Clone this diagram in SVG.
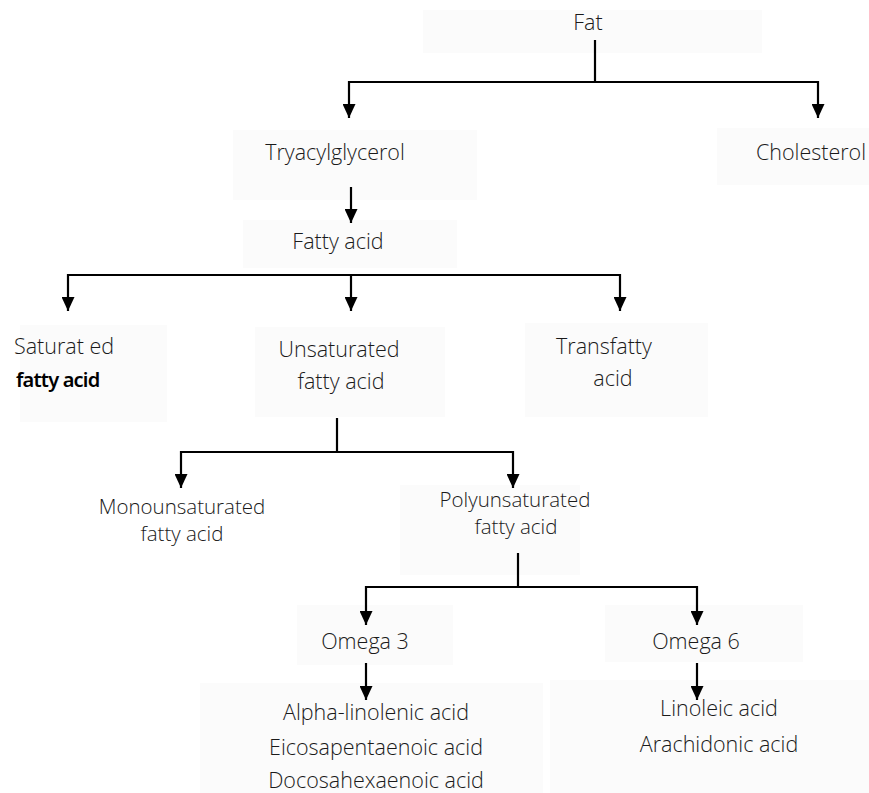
<svg xmlns="http://www.w3.org/2000/svg" width="869" height="793" viewBox="0 0 869 793">
<style>
.t{font-family:"Open Sans","Noto Sans",sans-serif;font-size:21.5px;fill:#1a1a1a;font-weight:300;text-anchor:middle}
.n{font-size:20.5px}
.s{text-anchor:start}
.b{fill:#fbfbfb}
.c{stroke:#000;stroke-width:2.2;fill:none}
</style>
<defs>
<marker id="ah" markerWidth="14" markerHeight="13" refX="14" refY="6.5" orient="auto-start-reverse" markerUnits="userSpaceOnUse" viewBox="0 0 14 13">
<path d="M0,0 L14,6.5 L0,13 Z" fill="#000"/>
</marker>
</defs>
<rect width="869" height="793" fill="#fff"/>
<g id="fat"><rect class="b" x="423" y="10" width="339" height="43"/><text class="t" x="588" y="30">Fat</text></g>
<g id="tryacylglycerol"><rect class="b" x="233" y="130" width="244" height="70"/><text class="t" x="335" y="160">Tryacylglycerol</text></g>
<g id="cholesterol"><rect class="b" x="717" y="128" width="152" height="57"/><text class="t" x="811" y="160">Cholesterol</text></g>
<g id="fatty-acid"><rect class="b" x="243" y="220" width="214" height="48"/><text class="t" x="338" y="249">Fatty acid</text></g>
<g id="saturated"><rect class="b" x="20" y="325" width="147" height="97"/><text class="t s" x="14" y="354">Saturat ed</text><text class="t s" x="16" y="387" style="font-weight:600;font-size:20px;fill:#000;font-family:'Noto Sans','Open Sans',sans-serif;letter-spacing:-0.8px">fatty acid</text></g>
<g id="unsaturated"><rect class="b" x="255" y="327" width="190" height="90"/><text class="t" x="339" y="357">Unsaturated</text><text class="t" x="341" y="389">fatty acid</text></g>
<g id="transfatty"><rect class="b" x="525" y="323" width="183" height="94"/><text class="t" x="604" y="354">Transfatty</text><text class="t" x="613" y="386">acid</text></g>
<g id="monounsaturated"><text class="t n" x="182" y="514">Monounsaturated</text><text class="t n" x="182" y="541">fatty acid</text></g>
<g id="polyunsaturated"><rect class="b" x="400" y="485" width="180" height="90"/><text class="t n" x="515" y="507">Polyunsaturated</text><text class="t n" x="516" y="534">fatty acid</text></g>
<g id="omega3"><rect class="b" x="297" y="605" width="156" height="60"/><text class="t" x="365" y="649">Omega 3</text></g>
<g id="omega6"><rect class="b" x="605" y="605" width="198" height="57"/><text class="t" x="696" y="649">Omega 6</text></g>
<g id="omega3-list"><rect class="b" x="200" y="683" width="343" height="110"/><text class="t" x="376" y="720">Alpha-linolenic acid</text><text class="t" x="376" y="755">Eicosapentaenoic acid</text><text class="t" x="376" y="788">Docosahexaenoic acid</text></g>
<g id="omega6-list"><rect class="b" x="550" y="680" width="319" height="113"/><text class="t" x="719" y="716">Linoleic acid</text><text class="t" x="719" y="752">Arachidonic acid</text></g>
<g id="connectors">
<path class="c" d="M595,40 V82"/>
<path class="c" d="M349,118 V82 H818 V118" marker-start="url(#ah)" marker-end="url(#ah)"/>
<path class="c" d="M351,187 V223" marker-end="url(#ah)"/>
<path class="c" d="M68,311 V275 H620 V311" marker-start="url(#ah)" marker-end="url(#ah)"/>
<path class="c" d="M351,275 V311" marker-end="url(#ah)"/>
<path class="c" d="M337,418 V452"/>
<path class="c" d="M181,488 V452 H513 V488" marker-start="url(#ah)" marker-end="url(#ah)"/>
<path class="c" d="M518,553 V587"/>
<path class="c" d="M366,625 V587 H697 V625" marker-start="url(#ah)" marker-end="url(#ah)"/>
<path class="c" d="M366,663 V700" marker-end="url(#ah)"/>
<path class="c" d="M697,663 V700" marker-end="url(#ah)"/>
</g>
</svg>
